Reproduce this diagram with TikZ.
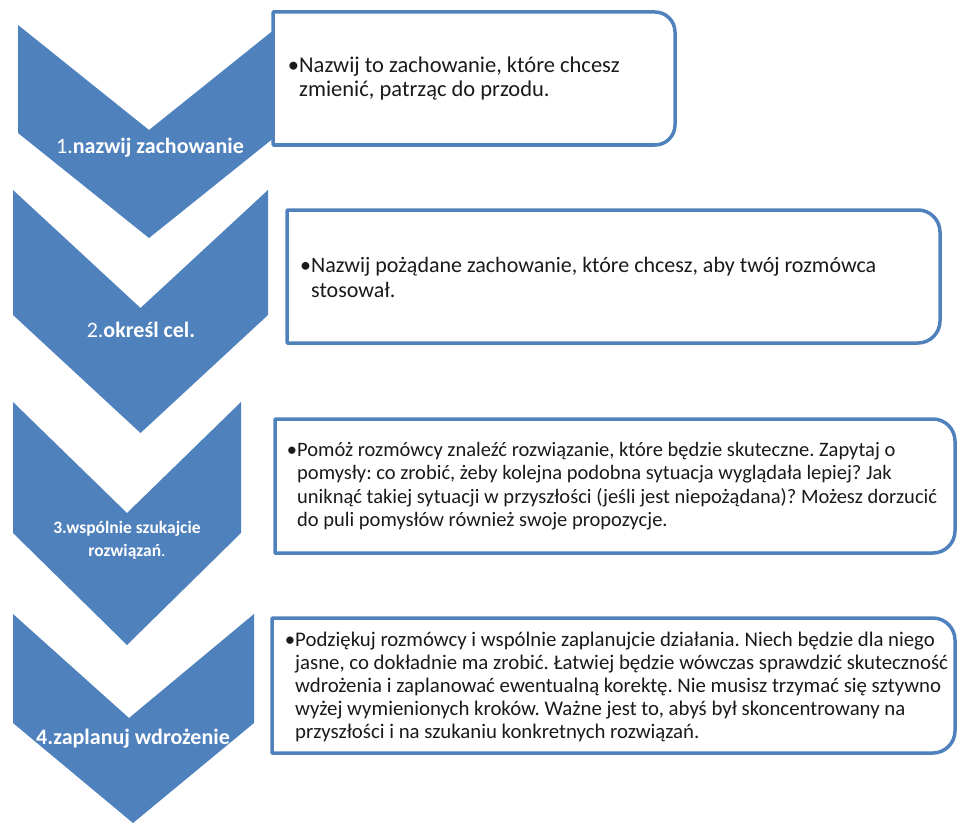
\documentclass[tikz,border=0pt]{standalone}
\usepackage{fontspec}
\setmainfont{Carlito}
\definecolor{officeblue}{HTML}{4F81BD}
\definecolor{bodytext}{HTML}{1A1A1A}
\frenchspacing
\begin{document}
\begin{tikzpicture}[x=1pt,y=-1pt,
  chev/.style={fill=officeblue, draw=none},
  infobox/.style={draw=officeblue, line width=3.5pt, fill=white, line join=round},
  lbl/.style={text=white, align=center, inner sep=0pt},
  body/.style={text=bodytext, align=left, anchor=west, inner sep=0pt}]
\useasboundingbox (0,0) rectangle (958,824);

% chevrons
\fill[chev] (18,25) -- (149,130) -- (280,25) -- (280,133) -- (149,238) -- (18,133) -- cycle;
\fill[chev] (13,190) -- (140.5,308) -- (268,190) -- (268,315) -- (140.5,433) -- (13,315) -- cycle;
\fill[chev] (13,402) -- (127,513) -- (241,402) -- (241,533) -- (127,645) -- (13,533) -- cycle;
\fill[chev] (13,614) -- (129,718) -- (254,614) -- (254,723) -- (133,823) -- (13,723) -- cycle;

% boxes
\draw[infobox] (273,145) -- (273,12) -- (655,12) .. controls (666,12) and (675,21) .. (675,32) -- (675,125) .. controls (675,136) and (666,145) .. (655,145) -- cycle;
\draw[infobox] (287,343) -- (287,210) -- (918,210) .. controls (930,210) and (940,220) .. (940,232) -- (940,321) .. controls (940,333) and (930,343) .. (918,343) -- cycle;
\draw[infobox] (275,553) -- (275,419) -- (933,419) .. controls (945,419) and (955,429) .. (955,441) -- (955,531) .. controls (955,543) and (945,553) .. (933,553) -- cycle;
\draw[infobox] (272,753) -- (272,618) -- (933,618) .. controls (945,618) and (955,628) .. (955,640) -- (955,731) .. controls (955,743) and (945,753) .. (933,753) -- cycle;

% chevron labels
\node[lbl, font=\fontsize{22}{26}\selectfont] (l1) at (150,148) {1.\textbf{nazwij zachowanie}};
\node[lbl, font=\fontsize{22}{26}\selectfont] (l2) at (141,330) {2.\textbf{określ cel.}};
\node[lbl, font=\fontsize{17.5}{23}\selectfont] (l3) at (127,540) {\textbf{3.wspólnie szukajcie}\\\textbf{rozwiązań}.};
\node[lbl, font=\fontsize{22}{26}\selectfont] (l4) at (133,739) {\textbf{4.zaplanuj wdrożenie}};

% box texts
\node[body, font=\fontsize{22.5}{24}\selectfont] (t1) at (299,79)
  {\llap{•}Nazwij to zachowanie, które chcesz\\zmienić, patrząc do przodu.};
\node[body, font=\fontsize{22}{25}\selectfont] (t2) at (311,277)
  {\llap{•}Nazwij pożądane zachowanie, które chcesz, aby twój rozmówca\\stosował.};
\node[body, font=\fontsize{20.5}{23.5}\selectfont] (t3) at (297,486)
  {\llap{•}Pomóż rozmówcy znaleźć rozwiązanie, które będzie skuteczne. Zapytaj o\\
   pomysły: co zrobić, żeby kolejna podobna sytuacja wyglądała lepiej? Jak\\
   uniknąć takiej sytuacji w przyszłości (jeśli jest niepożądana)? Możesz dorzucić\\
   do puli pomysłów również swoje propozycje.};
\node[body, font=\fontsize{20.8}{22.8}\selectfont] (t4) at (295,687)
  {\llap{•}Podziękuj rozmówcy i wspólnie zaplanujcie działania. Niech będzie dla niego\\
   jasne, co dokładnie ma zrobić. Łatwiej będzie wówczas sprawdzić skuteczność\\
   wdrożenia i zaplanować ewentualną korektę. Nie musisz trzymać się sztywno\\
   wyżej wymienionych kroków. Ważne jest to, abyś był skoncentrowany na\\
   przyszłości i na szukaniu konkretnych rozwiązań.};
\end{tikzpicture}
\end{document}
